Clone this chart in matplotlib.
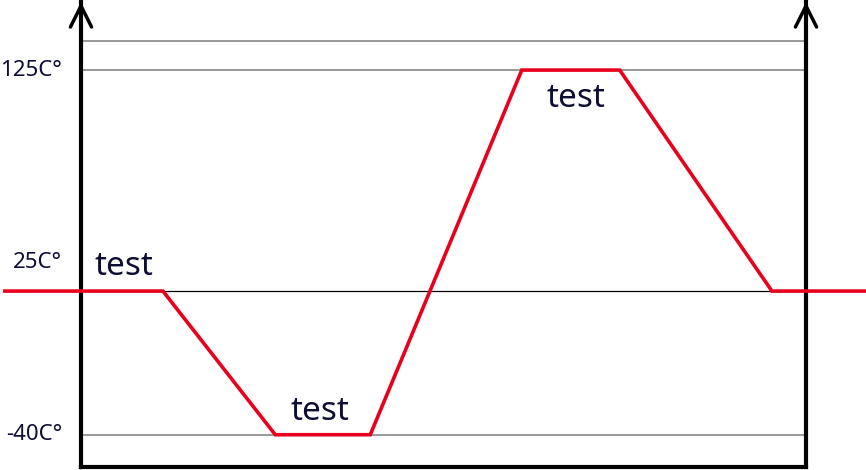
import matplotlib.pyplot as plt

# temperature profile (time in arbitrary units, 0..100 across the axes)
time_pts = [-10.5, 11.3, 26.8, 39.9, 60.8, 74.3, 95.3, 108.3]
temp_pts = [25, 25, -40, -40, 125, 125, 25, 25]

level_vals = [125, 25, -40]
level_labels = ["125C°", "25C°", "-40C°"]
top_line = 138

test_x = [5.9, 32.9, 68.2]
test_y = [36, -29.5, 112]

TXT = "#0d0d35"

fig = plt.figure(figsize=(8.66, 4.70), dpi=100)
ax = fig.add_axes([81 / 866, 3 / 470, 725 / 866, 465 / 470])
ax.set_xlim(0, 100)
ax.set_ylim(-54.6, 155.8)

ax.spines["top"].set_visible(False)
for s in ("left", "right", "bottom"):
    ax.spines[s].set_linewidth(3)
    ax.spines[s].set_color("black")
ax.set_xticks([])
ax.set_yticks([])

# horizontal reference lines
ax.axhline(top_line, color="#888888", lw=1.2, zorder=1)
ax.axhline(125, color="#888888", lw=1.2, zorder=1)
ax.axhline(25, color="black", lw=0.9, zorder=1)
ax.axhline(-40, color="#888888", lw=1.2, zorder=1)

ax.plot(time_pts, temp_pts, color="#e8001c", lw=2.6, clip_on=False, zorder=3,
        solid_joinstyle="miter")

# level labels left of the axis
label_off = [0, 13, 0]
for v, lab, off in zip(level_vals, level_labels, label_off):
    ax.text(-0.026, v + off, lab, transform=ax.get_yaxis_transform(),
            ha="right", va="center", fontsize=16, color=TXT, family="Noto Sans")

for x, y in zip(test_x, test_y):
    ax.text(x, y, "test", ha="center", va="center", fontsize=24, color=TXT,
            family="Noto Sans")

# arrows on top of both vertical axes
for xa in (0, 1):
    ax.annotate("", xy=(xa, 1.0), xytext=(xa, 0.85), xycoords="axes fraction",
                arrowprops=dict(arrowstyle="->", lw=2.5, color="black",
                                mutation_scale=38, shrinkA=0, shrinkB=0),
                annotation_clip=False)

fig.savefig("out.png", dpi=100)
